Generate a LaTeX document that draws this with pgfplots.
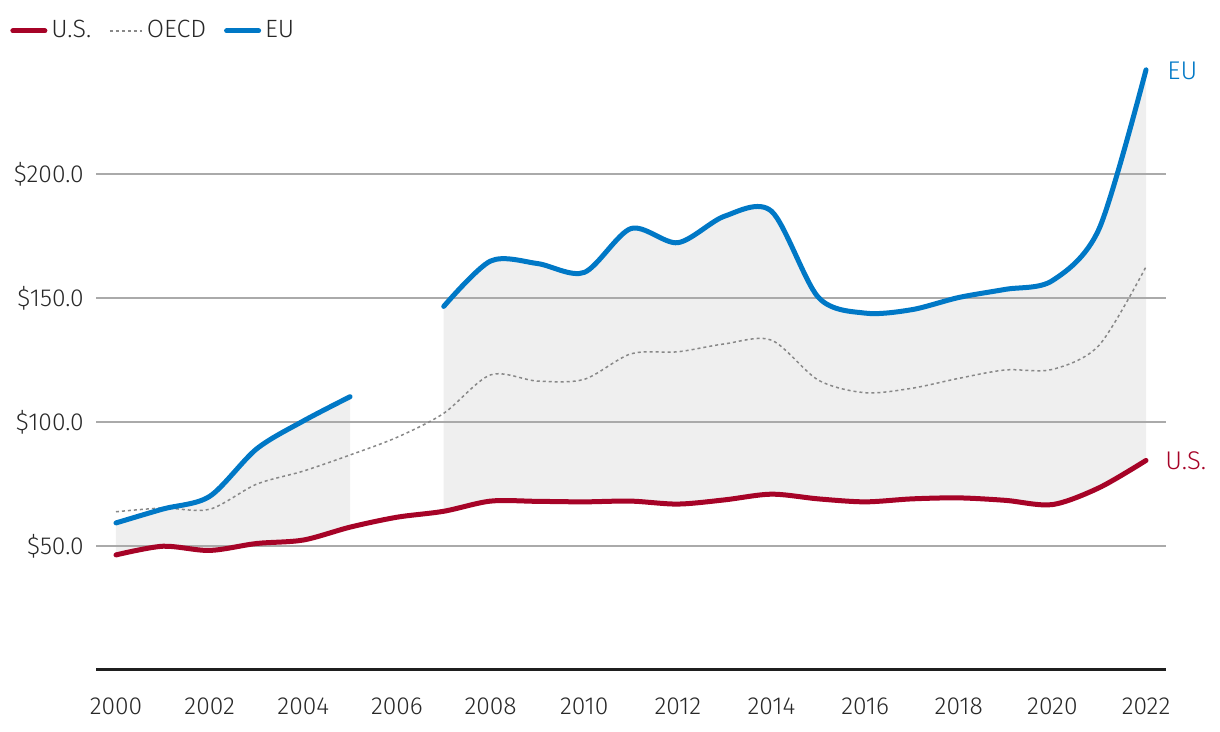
\documentclass[border=0pt]{standalone}
\usepackage{fontspec}
\setmainfont{Fira Sans Light}
\usepackage{pgfplots}
\pgfplotsset{compat=1.18}
\definecolor{usred}{RGB}{166,3,39}
\definecolor{eublue}{RGB}{0,120,198}
\definecolor{oecdgray}{RGB}{136,136,136}
\definecolor{fillgray}{RGB}{239,239,239}
\definecolor{gridgray}{RGB}{170,170,170}
\definecolor{txt}{RGB}{40,40,40}

\pgfplotstableread{
year val
2000 46.4
2001 49.9
2002 48.2
2003 51.0
2004 52.4
2005 57.6
2006 61.6
2007 64.0
2008 68.1
2009 68.0
2010 67.8
2011 68.1
2012 66.9
2013 68.6
2014 70.9
2015 69.0
2016 67.8
2017 69.0
2018 69.4
2019 68.4
2020 66.7
2021 73.5
2022 84.5
}\usdata

\pgfplotstableread{
year val
2000 63.8
2001 65.3
2002 64.8
2003 74.9
2004 80.2
2005 86.7
2006 93.8
2007 103.5
2008 119.0
2009 116.5
2010 117.2
2011 127.5
2012 128.3
2013 131.5
2014 133.0
2015 116.9
2016 111.8
2017 113.6
2018 117.6
2019 121.0
2020 121.2
2021 131.0
2022 162.6
}\oecddata

\pgfplotstableread{
year val
2000 59.3
2001 64.9
2002 70.0
2003 89.1
2004 100.4
2005 110.2
}\euadata

\pgfplotstableread{
year val
2007 146.6
2008 164.9
2009 163.9
2010 160.3
2011 178.0
2012 172.3
2013 183.0
2014 185.0
2015 150.3
2016 143.9
2017 145.3
2018 150.2
2019 153.5
2020 157.0
2021 178.0
2022 242.0
}\eubdata

\begin{document}
\begin{tikzpicture}
\begin{axis}[
  set layers,
  at={(48pt,31pt)}, anchor=south west,
  scale only axis, width=535pt, height=310pt,
  xmin=1999.573, xmax=2022.427, ymin=0, ymax=250,
  clip=false,
  axis x line*=bottom, axis y line*=left,
  x axis line style={-, draw=black!88, line width=1.5pt},
  y axis line style={draw=none},
  major tick length=0pt,
  xtick={2000,2002,...,2022},
  ytick={50,100,150,200},
  ymajorgrids,
  major grid style={draw=gridgray, line width=1pt},
  /pgf/number format/assume math mode=true,
  xticklabel style={/pgf/number format/1000 sep={}, anchor=north, inner sep=0pt, yshift=-13.5pt, text=txt, font=\fontsize{12.3}{14}\selectfont},
  yticklabel={\$\pgfmathprintnumber[fixed,fixed zerofill,precision=1]{\tick}},
  yticklabel style={anchor=east, inner sep=0pt, xshift=-6pt, text=txt, font=\fontsize{12.3}{14}\selectfont},
  legend columns=3,
  legend cell align=left,
  legend style={draw=none, fill=none, at={(-0.0804,1.031)}, anchor=west, inner sep=0pt,
    font=\fontsize{12.5}{14}\selectfont, text=txt,
    /tikz/every even column/.append style={column sep=7pt}},
  legend image code/.code={\draw[#1] (0pt,0pt) -- (16pt,0pt);},
]
\addplot[on layer=axis background, fill=fillgray, draw=none, smooth, tension=0.5, forget plot] table[x=year,y=val]{\euadata} \closedcycle;
\addplot[on layer=axis background, fill=fillgray, draw=none, smooth, tension=0.5, forget plot] table[x=year,y=val]{\eubdata} \closedcycle;
\addplot[on layer=axis background, fill=white, draw=white, line width=1.2pt, smooth, tension=0.5, forget plot] table[x=year,y=val]{\usdata} \closedcycle;
\addplot[usred, line width=2.5pt, line cap=round, smooth, tension=0.5] table[x=year,y=val]{\usdata};
\addlegendentry{U.S.}
\addplot[oecdgray, line width=0.75pt, dash pattern=on 1.5pt off 1.5pt, smooth, tension=0.5] table[x=year,y=val]{\oecddata};
\addlegendentry{OECD}
\addplot[eublue, line width=2.5pt, line cap=round, smooth, tension=0.5] table[x=year,y=val]{\euadata};
\addlegendentry{EU}
\addplot[eublue, line width=2.5pt, line cap=round, smooth, tension=0.5, forget plot] table[x=year,y=val]{\eubdata};
\node[anchor=west, inner sep=0pt, text=eublue, font=\fontsize{12.8}{14}\selectfont, xshift=10.5pt] at (axis cs:2022,241.5) {EU};
\node[anchor=west, inner sep=0pt, text=usred, font=\fontsize{12.8}{14}\selectfont, xshift=9.5pt] at (axis cs:2022,84.3) {U.S.};
\end{axis}
\pgfresetboundingbox
\useasboundingbox (0,0) rectangle (610pt,366pt);
\end{tikzpicture}
\end{document}
